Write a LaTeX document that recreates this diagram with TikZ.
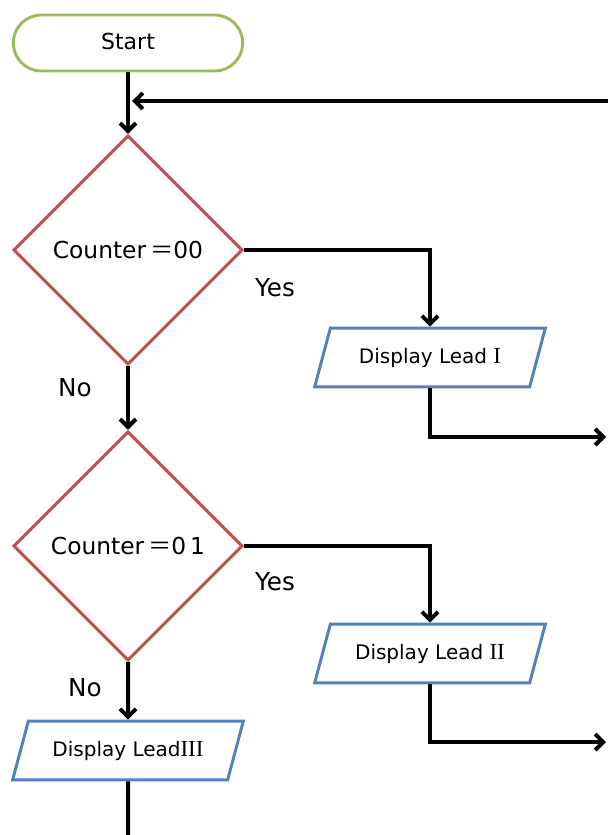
\documentclass[tikz,border=0pt]{standalone}
\usepackage{fontspec}
\setmainfont{DejaVu Sans}
\newfontfamily\romfont[Scale=1.15]{Liberation Serif}
\newfontfamily\cjk{Noto Sans CJK SC}
\usepackage{tikz}
\usetikzlibrary{shapes.geometric,arrows.meta}
\usepackage{xcolor}
\definecolor{termgreen}{HTML}{9BBB59}
\definecolor{decred}{HTML}{C0504D}
\definecolor{ioblue}{HTML}{4F81BD}

\begin{document}
\begin{tikzpicture}[x=0.75pt, y=-0.75pt,
  every node/.style={font=\fontsize{15}{18}\selectfont},
  big/.style={font=\fontsize{18.5}{22}\selectfont},
  terminal/.style={draw=termgreen, line width=2.2pt, rectangle, rounded corners=21pt,
    minimum width=172pt, minimum height=42pt, inner sep=0pt,
    font=\fontsize{16.5}{20}\selectfont},
  decision/.style={draw=decred, line width=2.2pt, diamond, aspect=1,
    font=\fontsize{17.5}{21}\selectfont,
    minimum width=172pt, minimum height=172pt, inner sep=0pt},
  iobox/.style={draw=ioblue, line width=2.2pt, trapezium, trapezium left angle=51,
    trapezium right angle=129, trapezium stretches body, minimum width=173pt,
    minimum height=44pt, inner sep=0pt},
  flowline/.style={line width=3pt, black},
  tip/.style={-{Straight Barb[length=6pt,width=12pt,line width=3pt]}}]
\useasboundingbox (0,0) rectangle (608,835);

% Start and the loop back in from the right
\node[terminal] (start) at (128,43) {\raisebox{3pt}{Start}};
\coordinate (loopin) at (608,101);
\coordinate (loopend) at (132,101);

% First test
\node[decision] (dec1) at (128,250) {Counter\,{\cjk ＝}00};
\node[iobox] (disp1) at (430,357.5) {Display Lead {\romfont I}};
\coordinate (out1) at (606,437);

% Second test
\node[decision] (dec2) at (128,546) {Counter\,{\cjk ＝}0\,1};
\node[iobox] (disp2) at (430,653.5) {Display Lead {\romfont II}};
\coordinate (out2) at (606,742);

% Fall-through branch
\node[iobox] (disp3) at (128,750.5) {Display Lead{\romfont III}};
\coordinate (exit) at (128,835);

% Connectors
\draw[flowline, tip] (start) -- (dec1);
\draw[flowline, tip] (loopin) -- (loopend);
\draw[flowline, tip] (dec1.east) -| (disp1.north);
\draw[flowline, tip] (disp1.south) |- (out1);
\draw[flowline, tip] (dec1.south) -- (dec2.north);
\draw[flowline, tip] (dec2.east) -| (disp2.north);
\draw[flowline, tip] (disp2.south) |- (out2);
\draw[flowline, tip] (dec2.south) -- (disp3.north);
\draw[flowline] (disp3.south) -- (exit);

% Branch labels
\node[big] (yes1) at (275,288) {Yes};
\node[big] (no1) at (75,388) {No};
\node[big] (yes2) at (275,582) {Yes};
\node[big] (no2) at (85,688) {No};
\end{tikzpicture}
\end{document}
